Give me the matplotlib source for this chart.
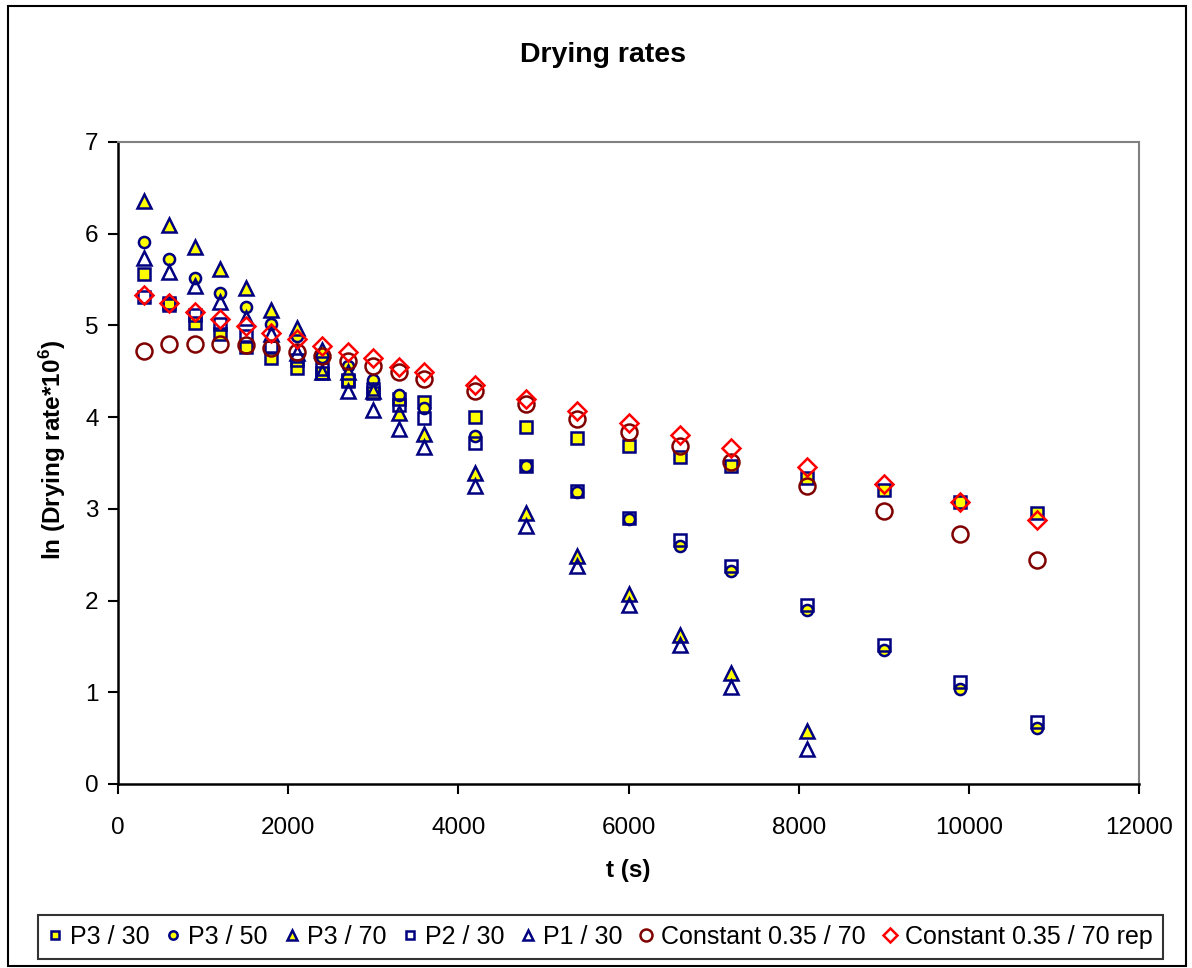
import matplotlib
matplotlib.use("Agg")
import matplotlib.pyplot as plt
from matplotlib.patches import Rectangle

plt.rcParams['font.family'] = ['Liberation Sans', 'DejaVu Sans']
plt.rcParams['mathtext.fontset'] = 'custom'
plt.rcParams['mathtext.rm'] = 'Liberation Sans'
plt.rcParams['mathtext.bf'] = 'Liberation Sans:bold'

# sampling times (s)
t = [300, 600, 900, 1200, 1500, 1800, 2100, 2400, 2700, 3000, 3300, 3600,
     4200, 4800, 5400, 6000, 6600, 7200, 8100, 9000, 9900, 10800]

# ln(drying rate * 1e6) for each run
p3_30 = [5.56, 5.25, 5.03, 4.91, 4.76, 4.65, 4.54, 4.48, 4.39, 4.26, 4.20, 4.17,
         4.00, 3.89, 3.77, 3.68, 3.57, 3.47, 3.34, 3.21, 3.08, 2.96]
p3_50 = [5.91, 5.72, 5.52, 5.35, 5.20, 5.02, 4.88, 4.66, 4.56, 4.41, 4.24, 4.10,
         3.79, 3.47, 3.18, 2.89, 2.60, 2.32, 1.90, 1.46, 1.04, 0.61]
p3_70 = [6.36, 6.10, 5.86, 5.62, 5.41, 5.17, 4.97, 4.73, 4.49, 4.28, 4.04, 3.82,
         3.39, 2.96, 2.49, 2.07, 1.63, 1.21, 0.58]
p2_30 = [5.31, 5.22, 5.11, 5.02, 4.89, 4.76, 4.62, 4.52, 4.40, 4.31, 4.13, 3.99,
         3.72, 3.47, 3.19, 2.90, 2.66, 2.38, 1.95, 1.52, 1.11, 0.68]
p1_30 = [5.74, 5.58, 5.43, 5.26, 5.08, 4.91, 4.70, 4.49, 4.28, 4.08, 3.87, 3.67,
         3.25, 2.81, 2.38, 1.95, 1.52, 1.06, 0.38]
const_70 = [4.72, 4.80, 4.80, 4.80, 4.79, 4.75, 4.71, 4.67, 4.61, 4.56, 4.49, 4.42,
            4.29, 4.14, 3.98, 3.84, 3.68, 3.51, 3.25, 2.98, 2.73, 2.44]
const_70_rep = [5.33, 5.24, 5.15, 5.07, 4.99, 4.92, 4.85, 4.78, 4.71, 4.64, 4.55, 4.49,
                4.35, 4.20, 4.07, 3.94, 3.81, 3.66, 3.46, 3.27, 3.08, 2.88]

navy = '#000080'
yellow = '#FFFF00'

fig = plt.figure(figsize=(11.92, 9.68), dpi=100)
ax = fig.add_axes([118 / 1192, 1 - 784 / 968, (1139 - 118) / 1192, (784 - 142) / 968])

ax.plot(t, p3_30, ls='none', marker='s', ms=8, mfc=yellow, mec=navy, mew=1.8, label='P3 / 30')
ax.plot(t, p3_50, ls='none', marker='o', ms=8, mfc=yellow, mec=navy, mew=1.8, label='P3 / 50')
ax.plot(t[:len(p3_70)], p3_70, ls='none', marker='^', ms=10, mfc=yellow, mec=navy, mew=1.8, label='P3 / 70')
ax.plot(t, p2_30, ls='none', marker='s', ms=8, mfc='none', mec=navy, mew=1.8, label='P2 / 30')
ax.plot(t[:len(p1_30)], p1_30, ls='none', marker='^', ms=10, mfc='none', mec=navy, mew=1.8, label='P1 / 30')
ax.plot(t, const_70, ls='none', marker='o', ms=11.5, mfc='none', mec='#800000', mew=1.8,
        label='Constant 0.35 / 70')
ax.plot(t, const_70_rep, ls='none', marker='D', ms=9.5, mfc='none', mec='#FF0000', mew=1.8,
        label='Constant 0.35 / 70 rep')

ax.set_xlim(0, 12000)
ax.set_ylim(0, 7)
ax.set_xticks(range(0, 12001, 2000))
ax.set_yticks(range(0, 8))
ax.tick_params(direction='out', length=7, width=1.5, labelsize=17.5, pad=7)
ax.tick_params(axis='x', pad=17)

for side in ['top', 'right']:
    ax.spines[side].set_color('#808080')
    ax.spines[side].set_linewidth(1.5)
for side in ['left', 'bottom']:
    ax.spines[side].set_linewidth(1.8)

ax.set_xlabel('t (s)', fontsize=17.5, fontweight='bold', labelpad=14)
ax.set_ylabel(r'ln (Drying rate*10$^\mathbf{6}$)', fontsize=17.5, fontweight='bold')
ax.yaxis.set_label_coords(-0.049, 0.52)
fig.text(0.506, 1 - 55 / 968, 'Drying rates', ha='center', va='center',
         fontsize=20.5, fontweight='bold')

leg = fig.legend(loc='center', bbox_to_anchor=(600 / 1192, 1 - 937 / 968), ncol=7,
                 fontsize=18, frameon=True, fancybox=False, edgecolor='black',
                 handlelength=0.6, handletextpad=0.3, columnspacing=0.65,
                 borderpad=0.4, markerscale=0.75)
leg.get_frame().set_linewidth(1.5)

# outer chart border
fig.patches.append(Rectangle((8 / 1192, 2 / 968), 1178 / 1192, 960 / 968,
                             transform=fig.transFigure, fill=False,
                             edgecolor='black', linewidth=1.5))

fig.savefig('out.png', dpi=100)
